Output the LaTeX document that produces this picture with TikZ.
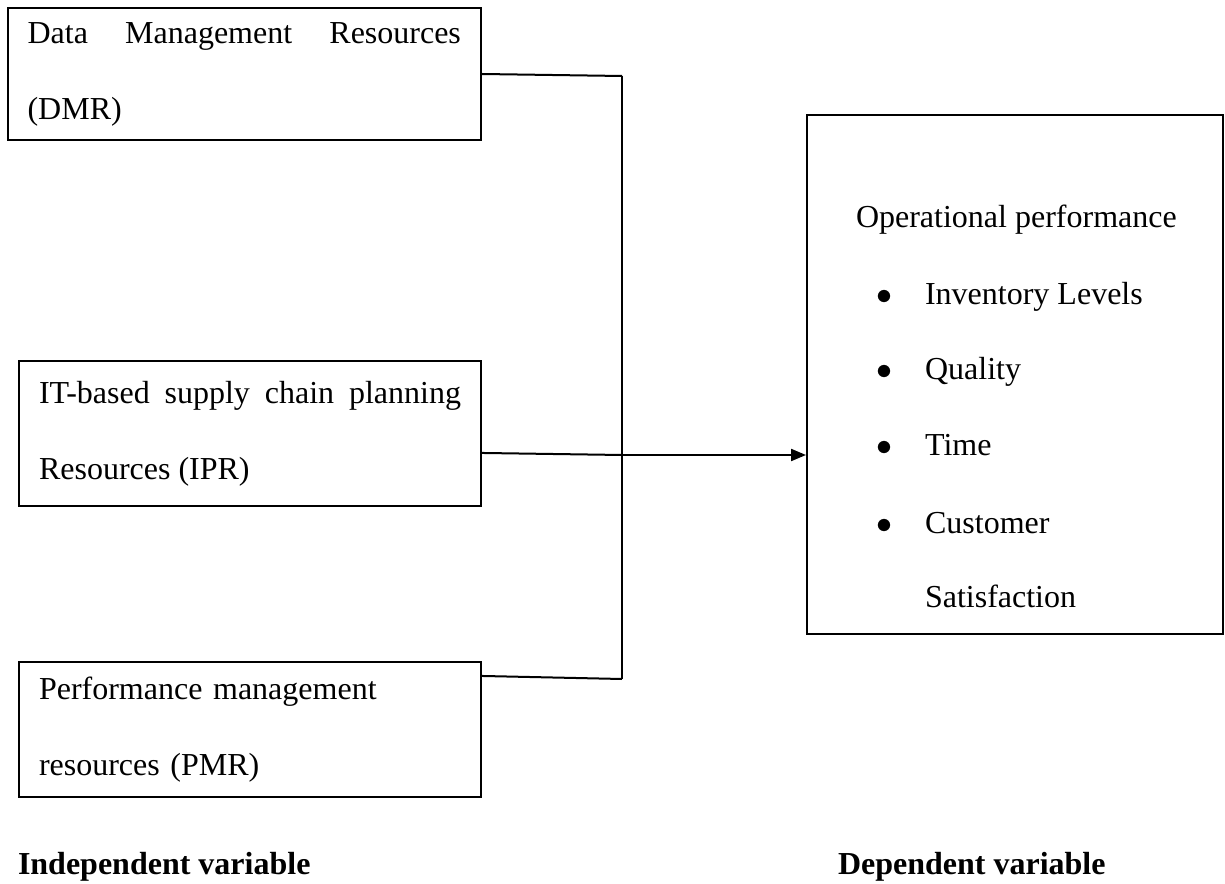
\documentclass[tikz,border=0pt]{standalone}
\usepackage{fontspec}
\setmainfont{Liberation Serif}
\usetikzlibrary{arrows.meta}
\begin{document}
\begin{tikzpicture}[x=0.375pt,y=-0.375pt,line width=0.75pt,
  font=\fontsize{12}{28.5}\selectfont,
  leftbox/.style={draw,line width=0.75pt,inner ysep=0pt,inner xsep=7.5pt,text width=#1},
  txt/.style={inner sep=0pt,anchor=base west},
  item/.style={inner sep=0pt,anchor=base west},
  connector/.style={line width=0.75pt},
  label/.style={inner sep=0pt,anchor=base west,font=\fontsize{12}{14}\selectfont\bfseries}]
\useasboundingbox (0,0) rectangle (1225,884);
% left boxes
\node[leftbox=162.5pt,align=justify,minimum height=49.5pt] (dmr) at (244.25,74)
  {Data Management Resources (DMR)};
\node[leftbox=158.25pt,align=justify,minimum height=54.4pt] (ipr) at (250,433.5)
  {IT-based supply chain planning Resources (IPR)};
\node[leftbox=158.25pt,align=left,minimum height=50.6pt] (pmr) at (250,729.5)
  {Performance management\\resources (PMR)};
% right box
\node[draw,line width=0.75pt,minimum width=156pt,minimum height=194.6pt,inner sep=0pt] (op) at (1015,374.5) {};
\node[txt] (opt) at (855,228) {Operational performance};
\node[item] (i1) at (875,305) {\makebox[18.4pt][l]{$\bullet$}Inventory Levels};
\node[item] (i2) at (875,380) {\makebox[18.4pt][l]{$\bullet$}Quality};
\node[item] (i3) at (875,456) {\makebox[18.4pt][l]{$\bullet$}Time};
\node[item] (i4) at (875,533) {\makebox[18.4pt][l]{$\bullet$}Customer};
\node[txt] (i5) at (924,607) {Satisfaction};
% junctions
\coordinate (j1) at (622,76);
\coordinate (j2) at (622,455);
\coordinate (j3) at (622,679);
\draw[connector] (dmr.east) -- (j1);
\draw[connector] (j1) -- (j3);
\draw[connector] ([yshift=-7.3pt]ipr.east) -- (j2);
\draw[connector,-{Triangle[length=5.6pt,width=4.5pt]}] (j2) -- (j2 -| op.west);
\draw[connector] ([yshift=-5.6pt]pmr.north east) -- (j3);
% labels
\node[label] (indep) at (17,874) {Independent variable};
\node[label] (dep) at (837,874) {Dependent variable};
\end{tikzpicture}
\end{document}
